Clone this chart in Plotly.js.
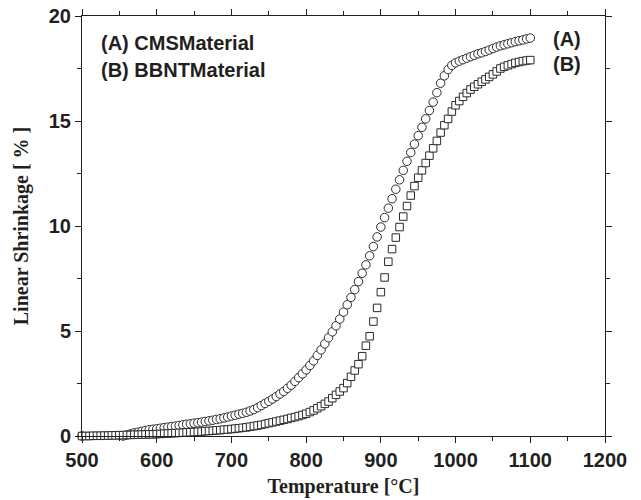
<!DOCTYPE html>
<html>
<head>
<meta charset="utf-8">
<script src="https://cdn.plot.ly/plotly-3.0.1.min.js"></script>
<style>html,body{margin:0;padding:0;background:#fff;}#chart{width:641px;height:500px;}</style>
</head>
<body>
<div id="chart"></div>
<script>
const temperature = [500,505,510,515,520,525,530,535,540,545,550,555,560,565,570,575,580,585,590,595,
600,605,610,615,620,625,630,635,640,645,650,655,660,665,670,675,680,685,690,695,
700,705,710,715,720,725,730,735,740,745,750,755,760,765,770,775,780,785,790,795,
800,805,810,815,820,825,830,835,840,845,850,855,860,865,870,875,880,885,890,895,
900,905,910,915,920,925,930,935,940,945,950,955,960,965,970,975,980,985,990,995,
1000,1005,1010,1015,1020,1025,1030,1035,1040,1045,1050,1055,1060,1065,1070,1075,1080,1085,1090,1095,1100];

const shrinkageA = [0.00,-0.02,-0.05,-0.08,-0.10,-0.11,-0.12,-0.12,-0.10,-0.08,-0.05,0.00,0.05,0.10,0.15,0.18,0.22,0.26,0.30,0.32,
0.34,0.37,0.40,0.42,0.45,0.47,0.50,0.53,0.56,0.58,0.61,0.63,0.66,0.69,0.72,0.75,0.79,0.82,0.86,0.90,
0.95,0.99,1.04,1.08,1.13,1.19,1.26,1.35,1.45,1.55,1.65,1.76,1.88,2.00,2.12,2.27,2.42,2.60,2.78,2.96,
3.15,3.36,3.58,3.84,4.10,4.39,4.68,4.96,5.25,5.57,5.90,6.25,6.60,6.97,7.35,7.75,8.15,8.58,9.02,9.48,
9.95,10.40,10.85,11.30,11.75,12.20,12.65,13.08,13.50,13.90,14.30,14.70,15.10,15.50,15.90,16.35,16.80,17.15,17.45,17.65,
17.77,17.85,17.92,17.99,18.06,18.13,18.20,18.25,18.31,18.38,18.45,18.52,18.58,18.63,18.68,18.73,18.78,18.82,18.86,18.91,18.95];

const shrinkageB = [0.00,0.00,0.00,0.01,0.01,0.01,0.02,0.02,0.03,0.03,0.04,0.04,0.05,0.05,0.06,0.06,0.07,0.07,0.08,0.08,
0.09,0.10,0.11,0.12,0.13,0.14,0.15,0.16,0.17,0.18,0.19,0.20,0.21,0.23,0.24,0.25,0.27,0.28,0.30,0.31,
0.33,0.35,0.37,0.39,0.41,0.44,0.47,0.50,0.53,0.57,0.61,0.65,0.69,0.73,0.77,0.81,0.86,0.90,0.95,1.00,
1.06,1.14,1.22,1.32,1.42,1.53,1.64,1.80,1.96,2.12,2.28,2.52,2.82,3.12,3.42,3.80,4.30,4.75,5.45,6.10,
6.85,7.55,8.30,8.90,9.45,9.95,10.45,10.95,11.45,11.90,12.30,12.65,13.00,13.35,13.70,14.05,14.45,14.80,15.10,15.45,
15.75,15.95,16.15,16.33,16.50,16.63,16.75,16.87,16.98,17.10,17.22,17.36,17.50,17.58,17.65,17.71,17.77,17.81,17.85,17.88,17.90];

const seriesNames = ['(A) CMSMaterial', '(B) BBNTMaterial'];
const endLabels = ['(A)', '(B)'];
const xTicks = [500,600,700,800,900,1000,1100,1200];
const yTicks = [0,5,10,15,20];

const sans = {family: 'Liberation Sans, Arial, sans-serif', size: 20, color: '#231f20', weight: 'bold'};
const serif = {family: 'Liberation Serif, Times New Roman, serif', size: 20, color: '#231f20', weight: 'bold'};
const mColor = '#2a2a2a';

const traces = [
  {x: temperature, y: shrinkageA, type: 'scatter', mode: 'markers', name: seriesNames[0], cliponaxis: false,
   marker: {symbol: 'circle', size: 8.5, color: '#ffffff', line: {color: mColor, width: 1}}},
  {x: temperature, y: shrinkageB, type: 'scatter', mode: 'markers', name: seriesNames[1], cliponaxis: false,
   marker: {symbol: 'square', size: 7.5, color: '#ffffff', line: {color: mColor, width: 1}}}
];

const axisCommon = {
  showgrid: false, zeroline: false, showline: true, linecolor: '#231f20', linewidth: 1,
  mirror: 'ticks', ticks: 'outside', ticklen: 6, tickwidth: 1, tickcolor: '#231f20',
  tickfont: sans
};

const layout = {
  width: 641, height: 500,
  margin: {l: 82, r: 36, t: 16, b: 64},
  paper_bgcolor: '#ffffff', plot_bgcolor: '#ffffff',
  showlegend: false,
  xaxis: Object.assign({}, axisCommon, {
    range: [500, 1200], tickvals: xTicks, ticktext: xTicks.map(String),
    minor: {ticks: 'outside', ticklen: 4, tickwidth: 1, tickcolor: '#231f20', dtick: 50, tick0: 500, showgrid: false},
    title: {text: 'Temperature [°C]', font: serif, standoff: 8}
  }),
  yaxis: Object.assign({}, axisCommon, {
    range: [0, 20], tickvals: yTicks, ticktext: yTicks.map(String),
    minor: {ticks: 'outside', ticklen: 4, tickwidth: 1, tickcolor: '#231f20', dtick: 2.5, tick0: 0, showgrid: false},
    title: {text: 'Linear Shrinkage [ % ]', font: serif, standoff: 14}
  }),
  annotations: [
    {text: seriesNames[0], xref: 'paper', yref: 'paper', x: 0.033, y: 0.935, xanchor: 'left', yanchor: 'middle', showarrow: false, font: sans},
    {text: seriesNames[1], xref: 'paper', yref: 'paper', x: 0.033, y: 0.872, xanchor: 'left', yanchor: 'middle', showarrow: false, font: sans},
    {text: endLabels[0], xref: 'paper', yref: 'paper', x: 0.897, y: 0.945, xanchor: 'left', yanchor: 'middle', showarrow: false, font: sans},
    {text: endLabels[1], xref: 'paper', yref: 'paper', x: 0.897, y: 0.885, xanchor: 'left', yanchor: 'middle', showarrow: false, font: sans}
  ]
};

Plotly.newPlot('chart', traces, layout, {displayModeBar: false, staticPlot: true});
</script>
</body>
</html>
